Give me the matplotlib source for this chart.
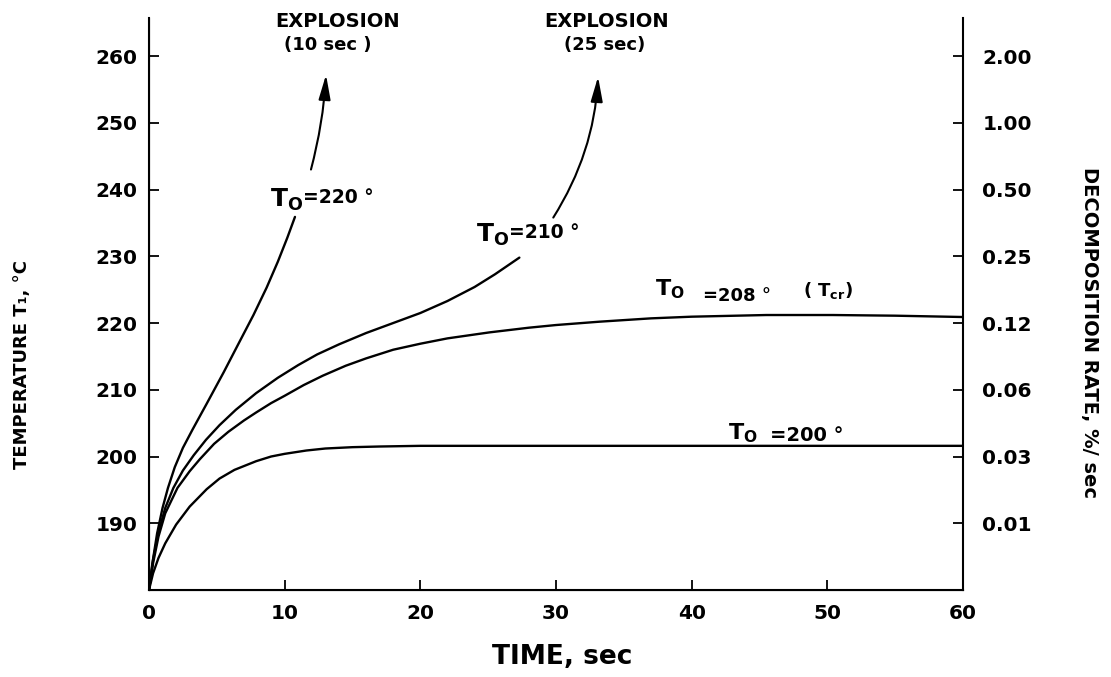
import matplotlib
matplotlib.use('Agg')
from matplotlib import pyplot as plt

plt.rcParams['font.family'] = 'DejaVu Sans'
plt.rcParams['font.weight'] = 'bold'

# time (sec) and temperature T1 (deg C)
t_200 = [0, 0.3, 0.7, 1.2, 2, 3, 4.25, 5.2, 6.3, 7.9, 9, 10, 11.6, 13, 15, 17,
         20, 30, 40, 50, 60]
T_200 = [180, 182.5, 184.8, 187, 189.8, 192.5, 195.1, 196.7, 198, 199.3, 200,
         200.4, 200.9, 201.2, 201.4, 201.5, 201.6, 201.6, 201.6, 201.6, 201.6]

t_208 = [0, 0.3, 0.7, 1.2, 2.1, 3, 3.75, 4.8, 5.85, 7, 7.9, 9, 10, 11.4, 12.8,
         14.5, 16, 18, 20, 22, 25.1, 28, 30, 33.2, 37, 40, 45.5, 50.4, 55, 60]
T_208 = [180, 184, 188, 191.5, 195.3, 197.8, 199.6, 201.9, 203.7, 205.4, 206.6,
         208, 209.1, 210.7, 212.1, 213.6, 214.7, 216, 216.9, 217.7, 218.6, 219.3,
         219.7, 220.2, 220.7, 220.95, 221.2, 221.2, 221.1, 220.9]

t_210 = [0, 0.3, 0.7, 1.2, 1.8, 2.5, 3.3, 4.2, 5.2, 6.4, 7.9, 9.5, 11, 12.4, 14,
         16, 18, 20, 22, 24, 25.5, 27.3]
T_210 = [180, 184.5, 188.7, 192.3, 195.3, 197.9, 200.2, 202.5, 204.7, 207, 209.5,
         211.8, 213.7, 215.3, 216.8, 218.5, 220, 221.5, 223.3, 225.4, 227.3, 229.8]

t_220 = [0, 0.25, 0.6, 1.0, 1.4, 1.9, 2.5, 3.2, 4.25, 5.5, 6.7, 7.7, 8.67, 9.5,
         10.2, 10.76]
T_220 = [180, 184, 188.5, 192.3, 195.3, 198.4, 201.3, 204, 207.9, 212.6, 217.3,
         221.2, 225.3, 229.2, 232.8, 235.9]

# explosion arrows: (start, tip)
arrow_220 = [(11.94, 243.0), (13.05, 257.2)]
arrow_210 = [(29.8, 235.8), (33.1, 256.9)]

temp_ticks = [190, 200, 210, 220, 230, 240, 250, 260]
rate_labels = ['0.01', '0.03', '0.06', '0.12', '0.25', '0.50', '1.00', '2.00']
time_ticks = [0, 10, 20, 30, 40, 50, 60]

fig = plt.figure(figsize=(11.11, 6.77), dpi=100)
ax = fig.add_axes([0.1341, 0.1285, 0.7327, 0.8449])

for t, T in [(t_200, T_200), (t_208, T_208), (t_210, T_210), (t_220, T_220)]:
    ax.plot(t, T, color='black', lw=1.7, solid_capstyle='round', solid_joinstyle='round')

for (start, tip), rad in [(arrow_220, 0.05), (arrow_210, 0.13)]:
    ax.annotate('', xy=tip, xytext=start,
                arrowprops=dict(arrowstyle='-|>,head_length=1.5,head_width=0.36',
                                color='black', lw=1.5, shrinkA=0, shrinkB=0,
                                connectionstyle='arc3,rad=%s' % rad))

ax.set_xlim(0, 60)
ax.set_ylim(180, 265.7)
ax.set_xticks(time_ticks)
ax.set_yticks(temp_ticks)
ax.tick_params(direction='in', length=7, width=1.3, labelsize=14.5)
ax.tick_params(axis='y', pad=8)
ax.tick_params(axis='x', pad=10)
ax.spines['top'].set_visible(False)
ax.spines['right'].set_visible(False)
for s in ['left', 'bottom']:
    ax.spines[s].set_linewidth(1.5)

ax2 = ax.twinx()
ax2.set_ylim(ax.get_ylim())
ax2.set_yticks(temp_ticks)
ax2.set_yticklabels(rate_labels)
ax2.tick_params(direction='in', length=7, width=1.3, labelsize=14.5, pad=14)
ax2.spines['top'].set_visible(False)
ax2.spines['right'].set_linewidth(1.5)


def piece_label(x, y, parts):
    # parts: (text, dx pt, dy pt, size)
    for text, dx, dy, size in parts:
        ax.annotate(text, (x, y), xytext=(dx, dy), textcoords='offset points',
                    fontsize=size, ha='left', va='baseline', annotation_clip=False)


T0 = r'$\mathbf{T_O}$'
piece_label(8.92, 237.4, [(T0, 0, 0, 18), ('=220 °', 24, 2.5, 13.5)])
piece_label(24.1, 232.2, [(T0, 0, 0, 18), ('=210 °', 24, 2.5, 13.5)])
piece_label(37.3, 224.2, [(T0, 0, 0, 16), ('=208 °', 34.6, -4, 13),
                          (r'( $\mathbf{T_{cr}}$)', 106.6, -1, 13)])
piece_label(42.7, 202.5, [(T0, 0, 0, 16), ('=200 °', 30, -1, 14)])

ax.text(13.9, 265.2, 'EXPLOSION', ha='center', va='center', fontsize=14, clip_on=False)
ax.text(13.2, 261.7, '(10 sec )', ha='center', va='center', fontsize=13, clip_on=False)
ax.text(33.7, 265.2, 'EXPLOSION', ha='center', va='center', fontsize=14, clip_on=False)
ax.text(33.6, 261.7, '(25 sec)', ha='center', va='center', fontsize=13, clip_on=False)

fig.text(0.02, 0.616, 'TEMPERATURE T₁, °C', rotation=90, ha='center', va='top', fontsize=13)
fig.text(0.981, 0.753, 'DECOMPOSITION RATE, %/ sec', rotation=-90, ha='center', va='top',
         fontsize=14)
fig.text(0.506, 0.030, 'TIME, sec', ha='center', va='center', fontsize=19)

fig.savefig('out.png', dpi=100)
